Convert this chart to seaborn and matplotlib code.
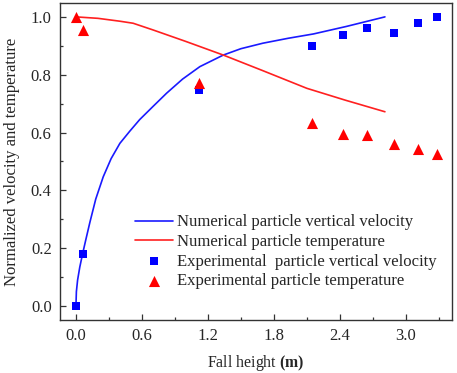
import matplotlib
matplotlib.use('Agg')
import matplotlib.pyplot as plt
from matplotlib.ticker import MultipleLocator, FormatStrFormatter
import pandas as pd
import seaborn as sns

# Données
num_vel_x = [0, 0.004, 0.015, 0.035, 0.06, 0.09, 0.127, 0.18, 0.248, 0.32, 0.4, 0.49, 0.58,
             0.7, 0.824, 0.97, 1.127, 1.34, 1.5, 1.7, 1.93, 2.16, 2.46, 2.81]
num_vel_y = [0, 0.05, 0.09, 0.135, 0.18, 0.23, 0.29, 0.37, 0.447, 0.51, 0.563, 0.605, 0.645,
             0.69, 0.736, 0.785, 0.828, 0.868, 0.89, 0.909, 0.926, 0.941, 0.967, 1.0]

num_temp_x = [0, 0.2, 0.4, 0.52, 0.7, 1.0, 1.34, 1.7, 2.1, 2.45, 2.81]
num_temp_y = [1.0, 0.995, 0.985, 0.978, 0.955, 0.915, 0.868, 0.814, 0.753, 0.712, 0.672]

exp_x = [0, 0.06, 1.115, 2.148, 2.43, 2.65, 2.89, 3.11, 3.28]
exp_vel = [0, 0.18, 0.747, 0.90, 0.937, 0.96, 0.946, 0.98, 1.0]
exp_temp = [1.0, 0.955, 0.773, 0.634, 0.596, 0.593, 0.562, 0.542, 0.527]

labels = ['Numerical particle vertical velocity',
          'Numerical particle temperature',
          'Experimental  particle vertical velocity',
          'Experimental particle temperature']

sns.set_style('ticks')
plt.rcParams['font.family'] = ['Liberation Serif', 'DejaVu Serif']
plt.rcParams['mathtext.fontset'] = 'custom'
plt.rcParams['mathtext.rm'] = 'Liberation Serif'
plt.rcParams['mathtext.bf'] = 'Liberation Serif:bold'

fig = plt.figure(figsize=(4.57, 3.73), dpi=100)
ax = fig.add_axes([60 / 457, 1 - 320 / 373, 392 / 457, 317 / 373])

df_v = pd.DataFrame({'x': num_vel_x, 'y': num_vel_y})
df_t = pd.DataFrame({'x': num_temp_x, 'y': num_temp_y})
df_e = pd.DataFrame({'x': exp_x, 'v': exp_vel, 't': exp_temp})

sns.lineplot(data=df_v, x='x', y='y', ax=ax, color='#1a1aff', lw=1.2, label=labels[0], sort=False)
sns.lineplot(data=df_t, x='x', y='y', ax=ax, color='#ff2020', lw=1.2, label=labels[1], sort=False)
sns.scatterplot(data=df_e, x='x', y='v', ax=ax, marker='s', color='#0000ff', s=36,
                linewidth=0, label=labels[2], zorder=3)
sns.scatterplot(data=df_e, x='x', y='t', ax=ax, marker='^', color='#ff0000', s=64,
                linewidth=0, label=labels[3], zorder=3)

ax.set_xlim(-0.145, 3.42)
ax.set_ylim(-0.048, 1.048)
ax.xaxis.set_major_locator(MultipleLocator(0.6))
ax.xaxis.set_minor_locator(MultipleLocator(0.3))
ax.yaxis.set_major_locator(MultipleLocator(0.2))
ax.yaxis.set_minor_locator(MultipleLocator(0.1))
ax.xaxis.set_major_formatter(FormatStrFormatter('%.1f'))
ax.yaxis.set_major_formatter(FormatStrFormatter('%.1f'))
ax.tick_params(which='both', direction='in', top=False, right=False, labelsize=12, width=0.9, color='#333333')
ax.tick_params(which='major', length=4.5, pad=6)
ax.tick_params(which='minor', length=2.5)
for sp in ax.spines.values():
    sp.set_linewidth(1.0)
    sp.set_color('#333333')

ax.set_xlabel(r'Fall height $\mathbf{(m)}$', fontsize=11.4, labelpad=6)
ax.set_ylabel('Normalized velocity and temperature', fontsize=12, labelpad=8)

ax.legend(loc='upper left', bbox_to_anchor=(0.191, 0.333), frameon=False, fontsize=12,
          handlelength=2.3, handletextpad=0.25, labelspacing=0.22, borderpad=0, borderaxespad=0)

fig.savefig('out.png', dpi=100)
